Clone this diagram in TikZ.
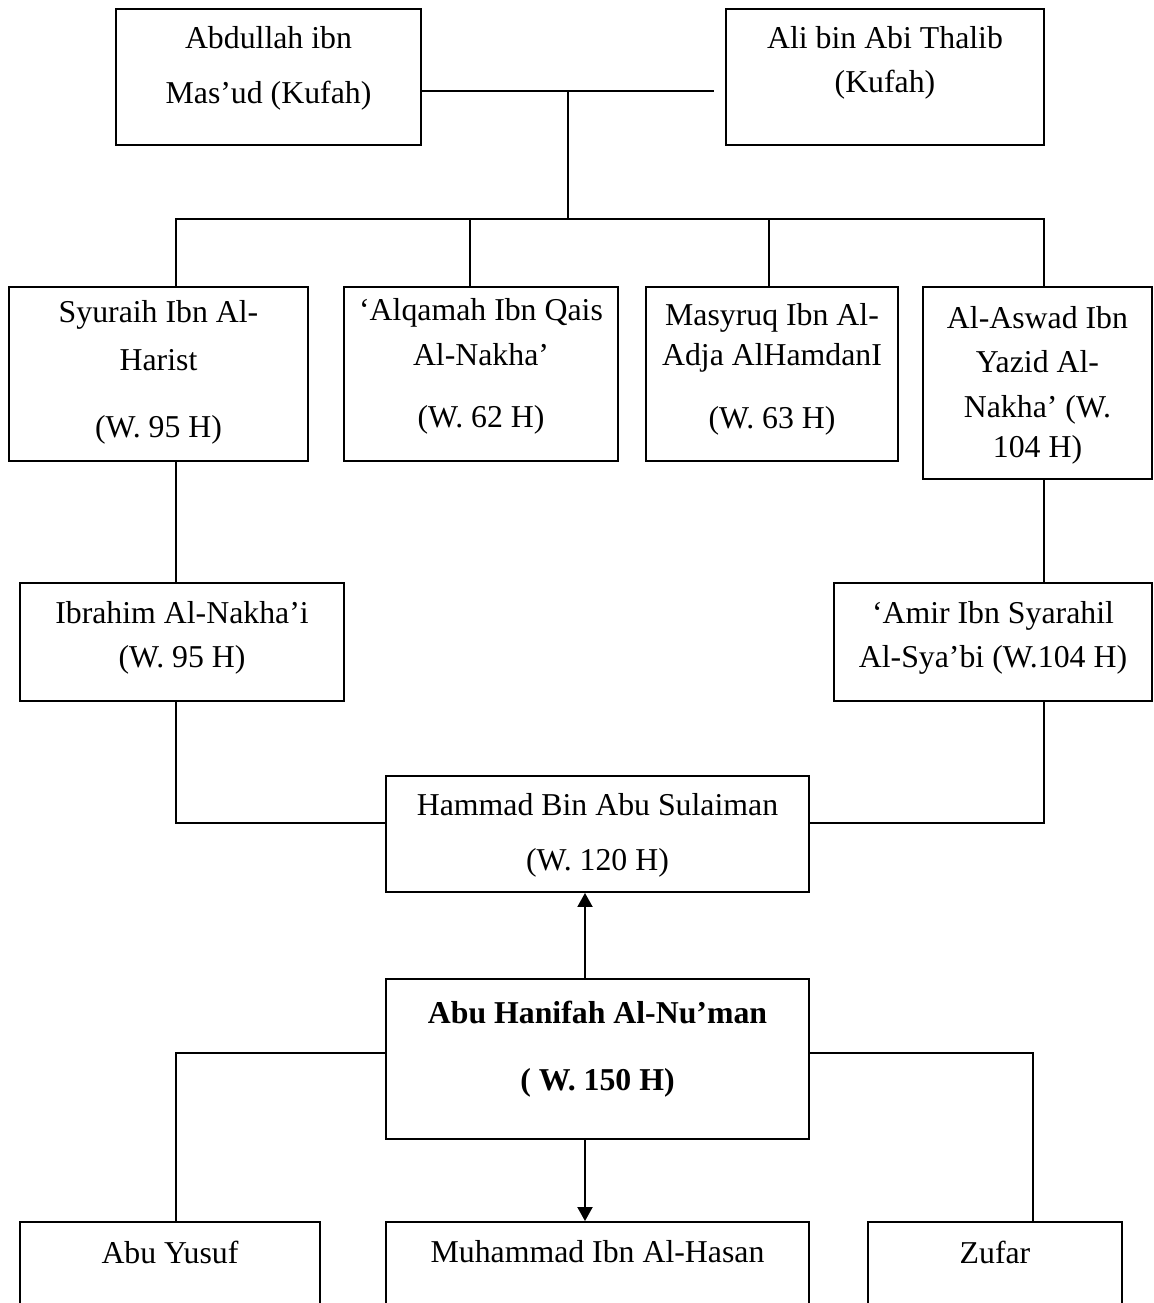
\documentclass[tikz,border=0pt]{standalone}
\usepackage{fontspec}
\setmainfont{Liberation Serif}
\usepackage{tikz}
\usetikzlibrary{arrows.meta}

\begin{document}
\begin{tikzpicture}[
    x=0.02cm,
    y=-0.02cm,
    >={Triangle[width=0.30cm,length=0.28cm]},
    box/.style={draw, line width=1.1pt, inner sep=0pt},
    txt/.style={align=center, inner sep=0pt},
    conn/.style={line width=1.1pt},
    every node/.style={font=\fontsize{18.1}{24.9}\selectfont}
]

\useasboundingbox (0,0) rectangle (1154,1303);
\clip (0,0) rectangle (1154,1303);

% ---------------------------------------------------------
% Kufah
% ---------------------------------------------------------

\node[box, minimum width=6.10cm, minimum height=2.72cm]
    (abdullah) at (268.5,77) {};
\node[txt] (abdullahT) at (268.5,68.5)
    {Abdullah ibn\\[6.2pt] Mas’ud (Kufah)};

\node[box, minimum width=6.36cm, minimum height=2.72cm]
    (ali) at (885,77) {};
\node[txt] (aliT) at (885,63)
    {Ali bin Abi Thalib\\ (Kufah)};

\coordinate (jTop) at (568,91);
\coordinate (jEnd) at (714,91);
\coordinate (jMid) at (568,219);

\draw[conn] (abdullah.east |- jTop) -- (jEnd);
\draw[conn] (jTop) -- (jMid);

% ---------------------------------------------------------
% Second row
% ---------------------------------------------------------

\node[box, minimum width=5.98cm, minimum height=3.48cm]
    (syuraih) at (158.5,374) {};
\node[txt] (syuraihT) at (158.5,372.5)
    {Syuraih Ibn Al-\\[2.3pt] Harist\\[13pt] (W. 95 H)};

\node[box, minimum width=5.48cm, minimum height=3.48cm]
    (alqamah) at (481,374) {};
\node[txt] (alqamahT) at (481,366.5)
    {‘Alqamah Ibn Qais\\[0.6pt] Al-Nakha’\\[10.2pt] (W. 62 H)};

\node[box, minimum width=5.04cm, minimum height=3.48cm]
    (masyruq) at (772,374) {};
\node[txt] (masyruqT) at (772,369.5)
    {Masyruq Ibn Al-\\[-2.3pt] Adja AlHamdanI\\[10.8pt] (W. 63 H)};

\node[box, minimum width=4.58cm, minimum height=3.84cm]
    (aswad) at (1037.5,383) {};
\node[txt] (aswadT) at (1037.5,385)
    {Al-Aswad Ibn\\[0.6pt] Yazid Al-\\[0.6pt] Nakha’ (W.\\[-2.3pt] 104 H)};

\coordinate (d1) at (176,219);
\coordinate (d2) at (470,219);
\coordinate (d3) at (769,219);
\coordinate (d4) at (1044,219);

\draw[conn] (d1 |- syuraih.north) -- (d1) -- (d4) -- (d4 |- aswad.north);
\draw[conn] (d2) -- (d2 |- alqamah.north);
\draw[conn] (d3) -- (d3 |- masyruq.north);

% ---------------------------------------------------------
% Third row
% ---------------------------------------------------------

\node[box, minimum width=6.48cm, minimum height=2.36cm]
    (ibrahim) at (182,642) {};
\node[txt] (ibrahimT) at (182,638)
    {Ibrahim Al-Nakha’i\\ (W. 95 H)};

\node[box, minimum width=6.36cm, minimum height=2.36cm]
    (amir) at (993,642) {};
\node[txt] (amirT) at (993,638)
    {‘Amir Ibn Syarahil\\ Al-Sya’bi (W.104 H)};

\draw[conn] (syuraih.south -| d1) -- (ibrahim.north -| d1);
\draw[conn] (aswad.south -| d4) -- (amir.north -| d4);

% ---------------------------------------------------------
% Hammad
% ---------------------------------------------------------

\node[box, minimum width=8.46cm, minimum height=2.32cm]
    (hammad) at (597.5,834) {};
\node[txt] (hammadT) at (597.5,835.5)
    {Hammad Bin Abu Sulaiman\\[6.2pt] (W. 120 H)};

\coordinate (hL) at (176,823);
\coordinate (hR) at (1044,823);

\draw[conn] (ibrahim.south -| hL) -- (hL) -- (hL -| hammad.west);
\draw[conn] (amir.south -| hR) -- (hR) -- (hR -| hammad.east);

% ---------------------------------------------------------
% Abu Hanifah
% ---------------------------------------------------------

\node[box, minimum width=8.46cm, minimum height=3.20cm]
    (hanifah) at (597.5,1059) {};
\node[txt, font=\fontsize{18.1}{24.9}\selectfont\bfseries] (hanifahT) at (597.5,1049)
    {Abu Hanifah Al-Nu’man\\[13.6pt] ( W. 150 H)};

\coordinate (ax) at (585,0);

\draw[conn,->] (hanifah.north -| ax) -- (hammad.south -| ax);

% ---------------------------------------------------------
% Students
% ---------------------------------------------------------

\node[box, minimum width=6.00cm, minimum height=2.36cm]
    (yusuf) at (170,1281) {};
\node[txt] (yusufT) at (170,1252) {Abu Yusuf};

\node[box, minimum width=8.46cm, minimum height=2.36cm]
    (muhammad) at (597.5,1281) {};
\node[txt] (muhammadT) at (597.5,1252) {Muhammad Ibn Al-Hasan};

\node[box, minimum width=5.08cm, minimum height=2.36cm]
    (zufar) at (995,1281) {};
\node[txt] (zufarT) at (995,1252) {Zufar};

\coordinate (aL) at (176,1053);
\coordinate (aR) at (1033,1053);

\draw[conn] (hanifah.west |- aL) -- (aL) -- (aL |- yusuf.north);
\draw[conn] (hanifah.east |- aR) -- (aR) -- (aR |- zufar.north);
\draw[conn,->] (hanifah.south -| ax) -- (muhammad.north -| ax);

\end{tikzpicture}
\end{document}
